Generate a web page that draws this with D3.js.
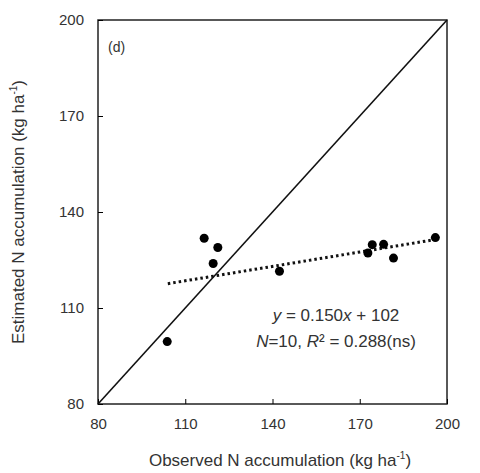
<!DOCTYPE html><html><head><script src="https://cdn.jsdelivr.net/npm/d3@7"></script>
<style>body{margin:0;background:#fff}text{font-family:Arial,"Liberation Sans",sans-serif;fill:#333}</style></head><body>
<svg id="c" width="480" height="473"></svg>
<script>
const obsX=[103.8,116.5,119.6,121.2,142.4,172.8,174.3,178.2,181.6,196];
const estY=[99.5,131.8,123.9,128.9,121.5,127.2,129.8,129.9,125.6,132];
const ticks=[80,110,140,170,200];
const slope=0.150, intercept=102;
const svg=d3.select("#c");
const x=d3.scaleLinear().domain([80,200]).range([98,447]);
const y=d3.scaleLinear().domain([80,200]).range([404,20]);
const g=svg.append("g");
g.append("rect").attr("x",98).attr("y",20).attr("width",349).attr("height",384).attr("fill","none").attr("stroke","#222").attr("stroke-width",1.5);
g.append("g").attr("transform","translate(0,404)").call(d3.axisBottom(x).tickValues(ticks).tickSizeInner(-5).tickSizeOuter(0).tickPadding(14))
 .call(a=>{a.select(".domain").remove();a.selectAll("text").attr("font-size",15).style("fill","#333");});
g.append("g").attr("transform","translate(98,0)").call(d3.axisLeft(y).tickValues(ticks).tickSizeInner(-5).tickSizeOuter(0).tickPadding(14))
 .call(a=>{a.select(".domain").remove();a.selectAll("text").attr("font-size",15).style("fill","#333");});
g.append("line").attr("x1",x(80)).attr("y1",y(80)).attr("x2",x(200)).attr("y2",y(200)).attr("stroke","#111").attr("stroke-width",1.6);
g.append("line").attr("x1",x(104)).attr("y1",y(slope*104+intercept)).attr("x2",x(196)).attr("y2",y(slope*196+intercept)).attr("stroke","#111").attr("stroke-width",3).attr("stroke-dasharray","2.5,3");
g.selectAll("circle").data(obsX).join("circle").attr("cx",d=>x(d)).attr("cy",(d,i)=>y(estY[i])).attr("r",4.5).attr("fill","#000");
svg.append("text").attr("x",108).attr("y",52).attr("font-size",14).text("(d)");
const t1=svg.append("text").attr("x",336).attr("y",321).attr("text-anchor","middle").attr("font-size",17);
t1.append("tspan").attr("font-style","italic").text("y");t1.append("tspan").text(" = 0.150");t1.append("tspan").attr("font-style","italic").text("x");t1.append("tspan").text(" + 102");
const t2=svg.append("text").attr("x",336).attr("y",347).attr("text-anchor","middle").attr("font-size",17);
t2.append("tspan").attr("font-style","italic").text("N");t2.append("tspan").text("=10, ");t2.append("tspan").attr("font-style","italic").text("R");t2.append("tspan").text("² = 0.288(ns)");
const xt=svg.append("text").attr("x",280).attr("y",466).attr("text-anchor","middle").attr("font-size",17);
xt.append("tspan").text("Observed N accumulation (kg ha");xt.append("tspan").attr("font-size",10).attr("dy",-7).text("-1");xt.append("tspan").attr("dy",7).text(")");
const yt=svg.append("text").attr("transform","translate(24,212) rotate(-90)").attr("text-anchor","middle").attr("font-size",17);
yt.append("tspan").text("Estimated N accumulation (kg ha");yt.append("tspan").attr("font-size",10).attr("dy",-7).text("-1");yt.append("tspan").attr("dy",7).text(")");
</script></body></html>
